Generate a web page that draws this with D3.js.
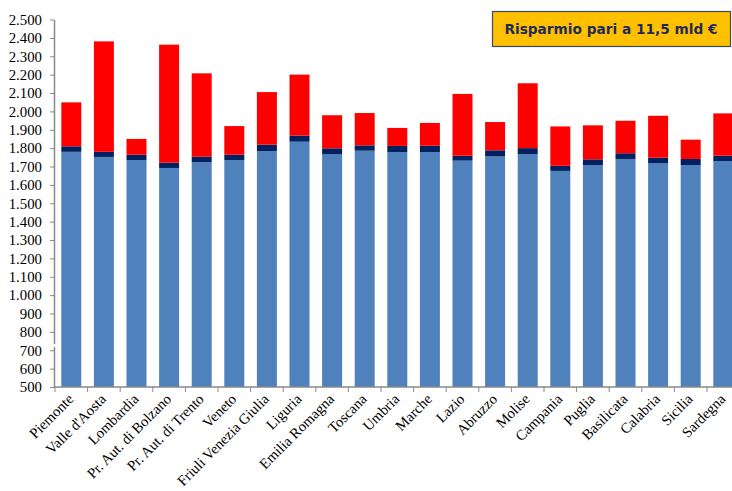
<!DOCTYPE html>
<html><head><meta charset="utf-8">
<script src="https://cdn.jsdelivr.net/npm/d3@7"></script>
<style>body{margin:0;background:#fff}svg{display:block}</style>
</head><body><svg id="c" width="732" height="491"></svg>
<script>
const categories = ["Piemonte","Valle d'Aosta","Lombardia","Pr. Aut. di Bolzano","Pr. Aut. di Trento","Veneto","Friuli Venezia Giulia","Liguria","Emilia Romagna","Toscana","Umbria","Marche","Lazio","Abruzzo","Molise","Campania","Puglia","Basilicata","Calabria","Sicilia","Sardegna"];
const baseValues = [1780,1752,1735,1692,1723,1735,1784,1835,1766,1786,1779,1779,1732,1755,1768,1676,1708,1741,1717,1708,1730];
const midValues = [30,28,29,29,30,29,35,33,33,29,33,34,27,33,32,28,31,31,31,33,29];
const savingValues = [239,601,86,642,454,156,286,332,180,176,98,124,336,154,353,214,185,177,228,105,230];
const yTicks = [500,600,700,800,900,1000,1100,1200,1300,1400,1500,1600,1700,1800,1900,2000,2100,2200,2300,2400,2500];
const legendText = "Risparmio pari a 11,5 mld €";

(function () {
const svg = d3.select("#c");
const mLeft = 54, mBottom = 387, mTop = 19.5;
const x = d3.scaleBand().domain(categories).range([55, 55 + 21 * 32.6]).paddingInner(0.387).paddingOuter(0.1935);
const y = d3.scaleLinear().domain([500, 2500]).range([mBottom, mTop]);
const locale = d3.formatLocale({decimal: ",", thousands: ".", grouping: [3], currency: ["", "€"]});
const fmt = locale.format(",d");

const table = categories.map((c, i) => ({cat: c, base: baseValues[i], mid: midValues[i], saving: savingValues[i]}));
const keys = ["base", "mid", "saving"];
const colors = {base: "#4F81BD", mid: "#002060", saving: "#FF0000"};
const stacked = d3.stack().keys(keys)(table);

svg.append("g").selectAll("g").data(stacked).join("g")
  .attr("fill", d => colors[d.key])
  .selectAll("rect").data(d => d).join("rect")
  .attr("x", d => x(d.data.cat))
  .attr("width", x.bandwidth())
  .attr("y", d => y(d[1]))
  .attr("height", d => y(Math.max(d[0], 500)) - y(d[1]));

const yAxis = svg.append("g").attr("transform", `translate(${mLeft},0)`)
  .call(d3.axisLeft(y).tickValues(yTicks).tickFormat(fmt).tickSize(4).tickSizeOuter(0));
yAxis.select(".domain").attr("stroke", "#898989").attr("stroke-width", 1.5);
yAxis.selectAll(".tick line").attr("stroke", "#898989");
yAxis.selectAll("text").style("font-family", "'Liberation Serif', serif").style("font-size", "14.8px").attr("fill", "#000").attr("x", -12);

svg.append("rect").attr("x", mLeft - 3).attr("y", y(728) - 1).attr("width", 6).attr("height", 3).attr("fill", "#fff");

const xAxis = svg.append("g").attr("transform", `translate(0,${mBottom})`)
  .call(d3.axisBottom(x).tickSize(0).tickSizeOuter(0));
xAxis.select(".domain").attr("stroke", "#898989").attr("stroke-width", 1.5).attr("d", `M${mLeft},0H732`);
xAxis.selectAll(".tick text")
  .style("font-family", "'Liberation Serif', serif").style("font-size", "14.67px").attr("fill", "#000")
  .attr("text-anchor", "end").attr("x", 0).attr("y", 0).attr("dy", 0)
  .attr("transform", "translate(3,13) rotate(-45)");
svg.append("g").selectAll("line").data(d3.range(categories.length + 1)).join("line")
  .attr("x1", i => 55 + i * x.step()).attr("x2", i => 55 + i * x.step())
  .attr("y1", mBottom).attr("y2", mBottom + 5).attr("stroke", "#898989");

const lg = svg.append("g");
lg.append("rect").attr("x", 492.5).attr("y", 11.5).attr("width", 238).attr("height", 35)
  .attr("fill", "#FFC000").attr("stroke", "#3A4A6A").attr("stroke-width", 1.2);
lg.append("text").attr("x", 611).attr("y", 34).attr("text-anchor", "middle")
  .style("font-family", "'DejaVu Sans', sans-serif").style("font-weight", "bold").style("font-size", "13.7px")
  .attr("fill", "#1F2A5C").text(legendText);
})();
</script></body></html>
